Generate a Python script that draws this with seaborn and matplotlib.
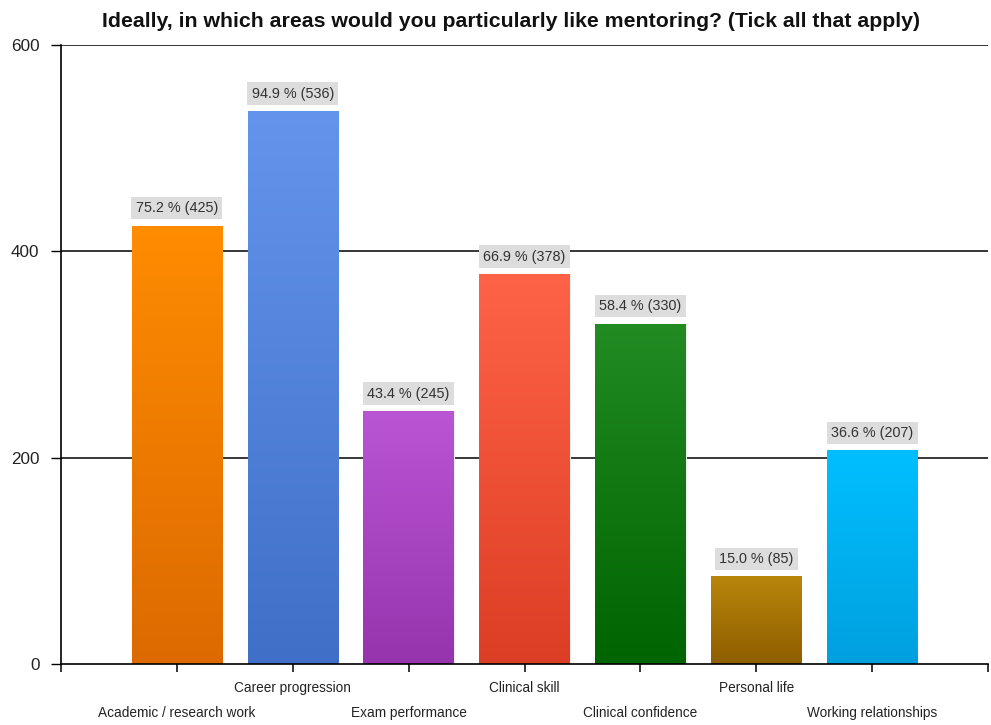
import numpy as np
import pandas as pd
import matplotlib
matplotlib.use("Agg")
import matplotlib.pyplot as plt
from matplotlib.colors import LinearSegmentedColormap
import seaborn as sns

categories = ["Academic / research work", "Career progression", "Exam performance",
              "Clinical skill", "Clinical confidence", "Personal life",
              "Working relationships"]
counts = [425, 536, 245, 378, 330, 85, 207]
percents = [75.2, 94.9, 43.4, 66.9, 58.4, 15.0, 36.6]
top_colors = ["#FF8C00", "#6495ED", "#BA55D3", "#FF6347", "#228B22", "#B8860B", "#00BFFF"]
bottom_colors = ["#DC6A00", "#3F6FC6", "#9634AE", "#DB3E24", "#006400", "#8F5E00", "#00A0DF"]
y_ticks = [0, 200, 400, 600]

sns.set_theme(style="white")
plt.rcParams["font.family"] = ["Liberation Sans", "DejaVu Sans"]

df = pd.DataFrame({"area": categories, "count": counts})

fig = plt.figure(figsize=(9.91, 7.25), dpi=100)
ax = fig.add_axes([0.0616, 0.0841, 0.9354, 0.8539])

sns.barplot(data=df, x="area", y="count", hue="area", palette=top_colors,
            width=0.78, legend=False, ax=ax, edgecolor="#F0F0F0", linewidth=0.8,
            zorder=3)

ax.set_xlim(-1, 7)
ax.set_ylim(0, 600)

# vertical gradient fill for each bar, light at the top and darker at the base
grad = np.linspace(0, 1, 256).reshape(-1, 1)
for patch, c_top, c_bot in zip(ax.patches, top_colors, bottom_colors):
    x0, y0 = patch.get_x(), patch.get_y()
    w, h = patch.get_width(), patch.get_height()
    cmap = LinearSegmentedColormap.from_list("g", [c_bot, c_top])
    im = ax.imshow(grad, cmap=cmap, aspect="auto", origin="lower",
                   extent=[x0, x0 + w, y0, y0 + h], zorder=3.5)
    im.set_clip_path(patch)

# value labels in grey boxes above the bars
for i, (cnt, pct) in enumerate(zip(counts, percents)):
    ax.annotate(f"{pct:.1f} % ({cnt})", xy=(i, cnt), xytext=(0, 7.5),
                textcoords="offset points", ha="center", va="bottom",
                fontsize=10.4, color="#333333", zorder=5,
                bbox=dict(boxstyle="square,pad=0.3", facecolor="#DDDDDD",
                          edgecolor="none"))

# gridlines
for yv in y_ticks[1:]:
    ax.axhline(yv, color="black", linewidth=1.1, zorder=1)

ax.set_yticks(y_ticks)
ax.set_yticklabels([str(v) for v in y_ticks], fontsize=12.3, color="#222222")

xt = list(range(-1, 8))
labels = [""] * len(xt)
for i, name in enumerate(categories):
    labels[i + 1] = name
ax.set_xticks(xt)
ax.set_xticklabels(labels, fontsize=9.8, color="#222222")

ax.tick_params(axis="y", direction="out", length=7.5, width=1, color="black",
               left=True, pad=8)
ax.tick_params(axis="x", direction="out", length=6, width=1.1, color="black",
               bottom=True, pad=6)

# alternate category labels between two rows
for k, tick in enumerate(ax.xaxis.get_major_ticks()):
    if 1 <= k <= 7 and (k - 1) % 2 == 0:
        tick.set_pad(24)

for side in ["top", "right"]:
    ax.spines[side].set_visible(False)
for side in ["left", "bottom"]:
    ax.spines[side].set_color("black")
    ax.spines[side].set_linewidth(1.2)
    ax.spines[side].set_zorder(4)

ax.set_xlabel("")
ax.set_ylabel("")

fig.suptitle("Ideally, in which areas would you particularly like mentoring? (Tick all that apply)",
             x=0.516, y=0.983, fontsize=15.3, fontweight="bold", color="#111111")

fig.savefig("out.png", dpi=100)
